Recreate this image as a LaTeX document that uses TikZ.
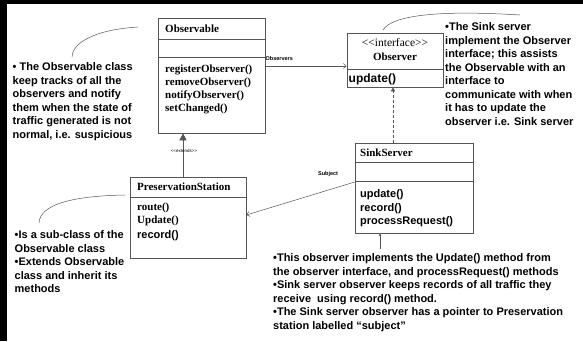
\documentclass[tikz,border=0pt]{standalone}
\usepackage{fontspec}
\setmainfont{Liberation Serif}
\newfontfamily\arialfont{Liberation Sans}
\usepackage{tikz}
\usetikzlibrary{arrows.meta, positioning}
\definecolor{umlgray}{RGB}{85, 85, 85}
\tikzset{
    classbox/.style = {rectangle, draw=umlgray, fill=white, line width=0.6pt, inner sep=0},
    sepline/.style = {draw=umlgray, line width=0.6pt},
    clsname/.style = {anchor=base west, inner sep=0, font=\fontsize{11}{13}\selectfont\bfseries},
    sansop/.style = {anchor=base west, inner sep=0, font=\arialfont\fontsize{11}{13}\selectfont\bfseries},
    notetext/.style = {anchor=north west, inner sep=0, align=left, font=\arialfont\fontsize{11}{13.5}\selectfont\bfseries},
    tinylabel/.style = {anchor=west, inner sep=0, font=\arialfont\fontsize{5.5}{6}\selectfont\bfseries},
    arrow/.style = {draw=umlgray, line width=0.5pt, -{Straight Barb[length=3pt, width=5pt]}},
    extends/.style = {draw=umlgray, line width=0.6pt, -{Triangle[length=7pt, width=7pt]}},
    realize/.style = {draw=umlgray, line width=0.5pt, densely dashed, -{Triangle[length=4pt, width=4pt]}},
    callout/.style = {draw=umlgray, line width=0.5pt}
}

\begin{document}
\begin{tikzpicture}[x=1pt, y=-1pt]
\useasboundingbox (0,0) rectangle (583,341);
\fill [black] (0,0) rectangle (583,4);
\fill [black] (0,0) rectangle (6.5,341);

% Observable
\node (observable) [classbox, minimum width=107pt, minimum height=115pt] at (211.5,75.5) {};
\draw [sepline] (observable.west |- 0,39) -- (observable.east |- 0,39);
\draw [sepline] (observable.west |- 0,57) -- (observable.east |- 0,57);
\node (obsname) [clsname] at (165,32.5) {Observable};
\node (obsreg) [clsname] at (165,72.5) {registerObserver()};
\node (obsrem) [clsname] at (165,85.5) {removeObserver()};
\node (obsnot) [clsname] at (165,98.5) {notifyObserver()};
\node (obsset) [clsname] at (165,111.5) {setChanged()};

% Observer interface
\node (observer) [classbox, minimum width=96pt, minimum height=54pt] at (395,60) {};
\draw [sepline] (observer.west |- 0,69) -- (observer.east |- 0,69);
\node (ifstereo) [anchor=base, inner sep=0, font=\fontsize{11.5}{13}\selectfont] at (observer.north |- 0,46.5) {{<}{<}interface{>}{>}};
\node (ifname) [anchor=base, inner sep=0, font=\fontsize{11}{13}\selectfont\bfseries] at (observer.north |- 0,60.5) {Observer};
\node (ifupdate) [sansop, font=\arialfont\fontsize{12}{14}\selectfont\bfseries] at (348.5,82) {update()};

% SinkServer
\node (sink) [classbox, minimum width=118pt, minimum height=90pt] at (414,188) {};
\draw [sepline] (sink.west |- 0,162) -- (sink.east |- 0,162);
\draw [sepline] (sink.west |- 0,181) -- (sink.east |- 0,181);
\node (sinkname) [clsname] at (360,156.5) {SinkServer};
\node (sinkupd) [sansop] at (360,197) {update()};
\node (sinkrec) [sansop] at (360,211) {record()};
\node (sinkproc) [sansop] at (360,224.5) {processRequest()};

% PreservationStation
\node (pres) [classbox, minimum width=116pt, minimum height=81pt] at (188,217.5) {};
\draw [sepline] (pres.west |- 0,197) -- (pres.east |- 0,197);
\node (presname) [clsname] at (137,190.5) {PreservationStation};
\node (presroute) [clsname] at (137,210.5) {route()};
\node (presupd) [clsname] at (137,223.5) {Update()};
\node (presrec) [sansop] at (137,238.5) {record()};

% relations
\draw [arrow] (observable.east |- 0,66) -- (observer.west |- 0,66);
\node (lblobservers) [tinylabel] at (265.5,59) {Observers};
\draw [extends] (pres.north -| 183,0) -- (observable.south -| 183,0);
\node (lblextends) [tinylabel, anchor=center, font=\arialfont\fontsize{4.5}{5}\selectfont] at (184,151) {{<}{<}extends{>}{>}};
\draw [realize] (sink.north -| 393,0) -- (observer.south -| 393,0);
\draw [arrow] (sink.west |- 0,182) -- (pres.east |- 0,215);
\node (lblsubject) [tinylabel] at (318,174) {Subject};

% notes
\node (noteobs) [notetext] at (12.5,62.5) {• The Observable class\\keep tracks of all the\\observers and notify\\them when the state of\\traffic generated is not\\normal, i.e. suspicious};
\node (notesink) [notetext] at (445,22.5) {•The Sink server\\implement the Observer\\interface; this assists\\the Observable with an\\interface to\\communicate with when\\it has to update the\\observer i.e. Sink server};
\node (notepres) [notetext] at (14.5,230.5) {•Is a sub-class of the\\Observable class\\•Extends Observable\\class and inherit its\\methods};
\node (notebottom) [notetext] at (273,253.5) {•This observer implements the Update() method from\\the observer interface, and processRequest() methods\\•Sink server observer keeps records of all traffic they\\receive~ using record() method.\\•The Sink server observer has a pointer to Preservation\\station labelled “subject”};

% callouts
\coordinate (cobs) at (138,27);
\coordinate (cif) at (383,30);
\coordinate (cpres) at (125,195);
\coordinate (cbottom) at (380,249);
\draw [callout] (cobs) .. controls (90,30) and (72,45) .. (72,57);
\draw [callout] (cif) .. controls (392,15) and (440,10) .. (520,15);
\draw [callout] (cpres) .. controls (70,196) and (40,205) .. (39,223);
\draw [draw=umlgray, line width=0.5pt, -{Stealth[length=3pt, width=3pt]}] (cbottom) -- (sink.south -| cbottom);
\end{tikzpicture}
\end{document}
